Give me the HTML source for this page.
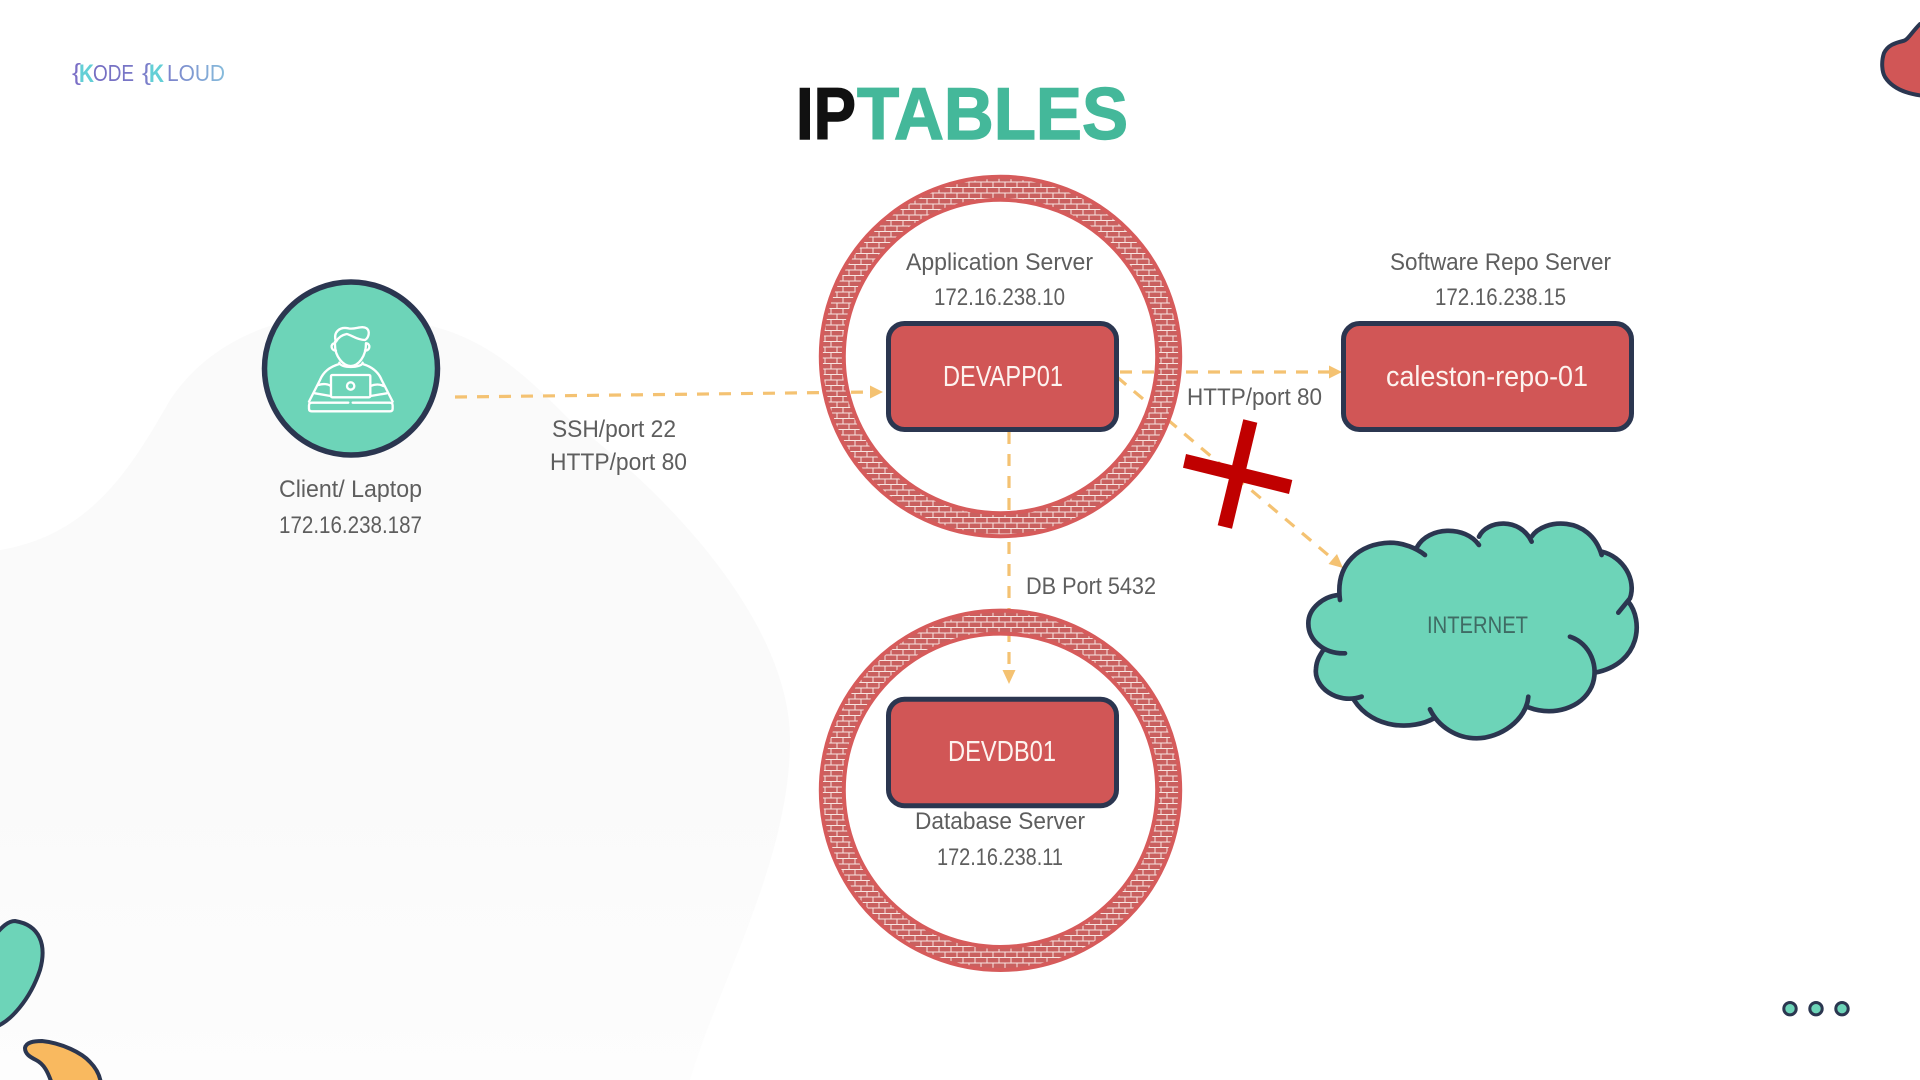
<!DOCTYPE html>
<html><head><meta charset="utf-8"><title>IPTABLES</title>
<style>html,body{margin:0;padding:0;background:#fff;width:1920px;height:1080px;overflow:hidden}svg{display:block}
text{font-family:"Liberation Sans",sans-serif}</style></head><body>
<svg width="1920" height="1080" viewBox="0 0 1920 1080" xmlns="http://www.w3.org/2000/svg">
<defs>
<pattern id="b" width="12" height="11" patternUnits="userSpaceOnUse">
<rect width="12" height="11" fill="#c9605f"/>
<path d="M0 .5H12M0 6H12M3 .5V6M9 6V11" stroke="#f8e4e0" stroke-width="1" fill="none"/>
</pattern>
<linearGradient id="lg" gradientUnits="userSpaceOnUse" x1="73" y1="0" x2="225" y2="0">
<stop offset="0" stop-color="#7468c0"/><stop offset=".6" stop-color="#7b7fca"/><stop offset="1" stop-color="#86bcdc"/>
</linearGradient>
<linearGradient id="bg" x1="0" y1="0" x2="0" y2="1">
<stop offset="0" stop-color="#fafafa"/><stop offset=".6" stop-color="#fafafa"/><stop offset="1" stop-color="#fdfdfd"/>
</linearGradient>
</defs>
<rect width="1920" height="1080" fill="#fff"/>
<path d="M0 550C90 535 130 470 170 400C210 340 290 300 400 320C480 330 520 370 570 420C700 520 790 640 790 740C790 860 720 980 690 1080L0 1080Z" fill="url(#bg)"/>

<!-- corner decorations -->
<g stroke="#2b3650" stroke-width="4" stroke-linejoin="round">
<path d="M-5 1027C10 1022 30 1000 40 970C47 945 40 925 15 921C8 921 2 927 -5 935Z" fill="#6dd4b8"/>
<path d="M25 1048C26 1042 34 1041 42 1041C62 1043 82 1053 90 1062C96 1068 100 1075 101 1084H52C48 1072 44 1064 36 1060C30 1057 25 1054 25 1048Z" fill="#f9b95f"/>
<path d="M1925 24L1920 24C1911 33 1908 40 1903 41C1895 43 1888 45 1884 53C1881 62 1882 72 1885 77C1892 88 1905 94 1925 96Z" fill="#d15656"/>
</g>

<!-- logo -->
<g fill="url(#lg)" font-size="23">
<text x="72" y="80" textLength="9" lengthAdjust="spacingAndGlyphs" fill="#7b6fc6">{</text>
<text x="79" y="82" font-size="25" font-weight="700" textLength="15" lengthAdjust="spacingAndGlyphs" fill="#63cfd6">K</text>
<text x="93" y="81" textLength="41" lengthAdjust="spacingAndGlyphs">ODE</text>
<text x="142" y="80" textLength="9" lengthAdjust="spacingAndGlyphs" fill="#7b7fca">{</text>
<text x="149" y="82" font-size="25" font-weight="700" textLength="15" lengthAdjust="spacingAndGlyphs" fill="#63cfd6">K</text>
<text x="167" y="81" textLength="58" lengthAdjust="spacingAndGlyphs">LOUD</text>
</g>

<!-- title -->
<text x="796" y="139" font-size="73" font-weight="700" fill="#111" stroke="#111" stroke-width="1.4" textLength="60" lengthAdjust="spacingAndGlyphs">IP</text>
<text x="857" y="139" font-size="73" font-weight="700" fill="#44b89a" stroke="#44b89a" stroke-width="1.4" textLength="271" lengthAdjust="spacingAndGlyphs">TABLES</text>

<!-- connectors -->
<g stroke="#f4c272" stroke-width="3.2" fill="none" stroke-dasharray="12 10">
<path d="M455 397L872 392"/>
<path d="M1120 372H1331"/>
<path d="M1009 432V673"/>
<path d="M1117 377L1334 560"/>
</g>
<g fill="#f4c272">
<polygon points="883,392 870,385.5 870,398.5"/>
<polygon points="1342,372 1329,365.5 1329,378.5"/>
<polygon points="1009,684 1002.5,670 1015.5,670"/>
<polygon points="1343,568 1337,554 1328.5,564"/>
</g>

<!-- firewall rings -->
<g fill="none">
<circle cx="1000.5" cy="356.5" r="168" stroke="url(#b)" stroke-width="23"/>
<circle cx="1000.5" cy="356.5" r="179.7" stroke="#d65b5b" stroke-width="4"/>
<circle cx="1000.5" cy="356.5" r="156.7" stroke="#d65b5b" stroke-width="4"/>
<circle cx="1000.5" cy="790.3" r="168" stroke="url(#b)" stroke-width="23"/>
<circle cx="1000.5" cy="790.3" r="179.7" stroke="#d65b5b" stroke-width="4"/>
<circle cx="1000.5" cy="790.3" r="156.7" stroke="#d65b5b" stroke-width="4"/>
</g>

<!-- boxes -->
<g fill="#d15656" stroke="#2b3650" stroke-width="5">
<rect x="888.5" y="323.5" width="228" height="106" rx="16"/>
<rect x="888.5" y="699.2" width="228" height="106.5" rx="16"/>
<rect x="1343.5" y="323.5" width="288" height="106" rx="16"/>
</g>

<!-- client -->
<circle cx="351" cy="368.5" r="86.5" fill="#6dd4b8" stroke="#2b3650" stroke-width="5.5"/>
<g transform="translate(240 260) scale(.3333)" fill="none" stroke="#fff" stroke-width="7" stroke-linecap="round" stroke-linejoin="round">
<path d="M288 245C278 215 300 200 325 205C345 210 365 195 380 205C392 215 385 235 375 240C350 240 335 225 320 222C305 225 295 232 288 245"/>
<path d="M285 245V255C285 290 310 318 332 318C355 318 378 290 378 250"/>
<path d="M285 250C270 250 272 272 288 272M378 250C392 250 392 272 375 272"/>
<path d="M298 308C300 325 365 325 368 308"/>
<path d="M298 312C270 320 250 335 240 360L207 425M368 312C395 320 415 335 425 360L458 425"/>
<rect x="273" y="345" width="118" height="67" rx="4"/>
<circle cx="332" cy="378" r="11"/>
<path d="M235 375C250 370 265 372 272 378M392 378C405 372 420 372 430 378M225 400L272 408M392 408L440 400"/>
<path d="M325 428H215Q207 428 207 436V446Q207 454 215 454H450Q458 454 458 446V436Q458 428 450 428H338"/>
</g>

<!-- X -->
<g fill="#c00000">
<polygon points="1186,454 1292.3,480 1289,494 1183,467.7"/>
<polygon points="1243.3,419.3 1257.3,422.7 1232,528.7 1217.7,525.3"/>
</g>

<!-- cloud -->
<g transform="translate(1280 500) scale(.3333)">
<path d="M175 285C170 190 240 130 330 128C370 128 395 135 412 140C445 80 555 75 597 125C620 60 720 50 755 115C790 55 930 45 965 155C1030 170 1070 240 1045 305C1090 360 1085 490 945 518L935 560C905 625 820 650 745 622C720 680 660 715 590 715C530 715 485 690 462 655C400 690 280 690 222 600C170 615 100 560 108 505C110 480 120 465 130 450C100 430 85 400 85 370C85 325 130 290 175 285Z" fill="#6dd4b8"/>
<g fill="none" stroke="#2b3650" stroke-width="14" stroke-linecap="round">
<path d="M180 300C165 190 240 130 330 128C370 128 410 145 435 165"/>
<path d="M412 140C445 80 555 75 597 135"/>
<path d="M597 110C620 60 720 50 755 125"/>
<path d="M755 110C790 55 930 45 965 165"/>
<path d="M965 155C1030 170 1070 240 1050 295L1015 338"/>
<path d="M1045 305C1090 360 1085 490 945 518"/>
<path d="M870 410C930 430 960 500 935 560C905 625 820 650 745 622"/>
<path d="M745 590C740 660 660 715 590 715C530 715 475 680 450 628"/>
<path d="M462 655C400 690 280 690 222 600"/>
<path d="M245 590C170 615 100 560 108 505C110 480 120 465 130 450"/>
<path d="M195 460C130 462 85 420 85 370C85 325 130 290 175 285"/>
</g>
</g>

<!-- dots -->
<g fill="#6dd4b8" stroke="#2b3650" stroke-width="3">
<circle cx="1790" cy="1008.7" r="6.2"/>
<circle cx="1816" cy="1008.7" r="6.2"/>
<circle cx="1842" cy="1008.7" r="6.2"/>
</g>

<!-- labels -->
<g fill="#5e5e5e" font-size="24">
<text x="279" y="497" textLength="143" lengthAdjust="spacingAndGlyphs">Client/ Laptop</text>
<text x="279" y="533" textLength="143" lengthAdjust="spacingAndGlyphs">172.16.238.187</text>
<text x="552" y="437" textLength="124" lengthAdjust="spacingAndGlyphs">SSH/port 22</text>
<text x="550" y="470" textLength="137" lengthAdjust="spacingAndGlyphs">HTTP/port 80</text>
<text x="906" y="270" textLength="187" lengthAdjust="spacingAndGlyphs">Application Server</text>
<text x="934" y="305" textLength="131" lengthAdjust="spacingAndGlyphs">172.16.238.10</text>
<text x="1390" y="270" textLength="221" lengthAdjust="spacingAndGlyphs">Software Repo Server</text>
<text x="1435" y="305" textLength="131" lengthAdjust="spacingAndGlyphs">172.16.238.15</text>
<text x="1187" y="405" textLength="135" lengthAdjust="spacingAndGlyphs">HTTP/port 80</text>
<text x="1026" y="594" textLength="130" lengthAdjust="spacingAndGlyphs">DB Port 5432</text>
<text x="915" y="829" textLength="170" lengthAdjust="spacingAndGlyphs">Database Server</text>
<text x="937" y="865" textLength="126" lengthAdjust="spacingAndGlyphs">172.16.238.11</text>
</g>
<g fill="#fdf3ef" font-size="29">
<text x="943" y="386" textLength="120" lengthAdjust="spacingAndGlyphs">DEVAPP01</text>
<text x="948" y="761" textLength="108" lengthAdjust="spacingAndGlyphs">DEVDB01</text>
<text x="1386" y="386" textLength="202" lengthAdjust="spacingAndGlyphs">caleston-repo-01</text>
</g>
<text x="1427" y="633" font-size="24" fill="#3f6b64" textLength="101" lengthAdjust="spacingAndGlyphs">INTERNET</text>
</svg>
</body></html>
